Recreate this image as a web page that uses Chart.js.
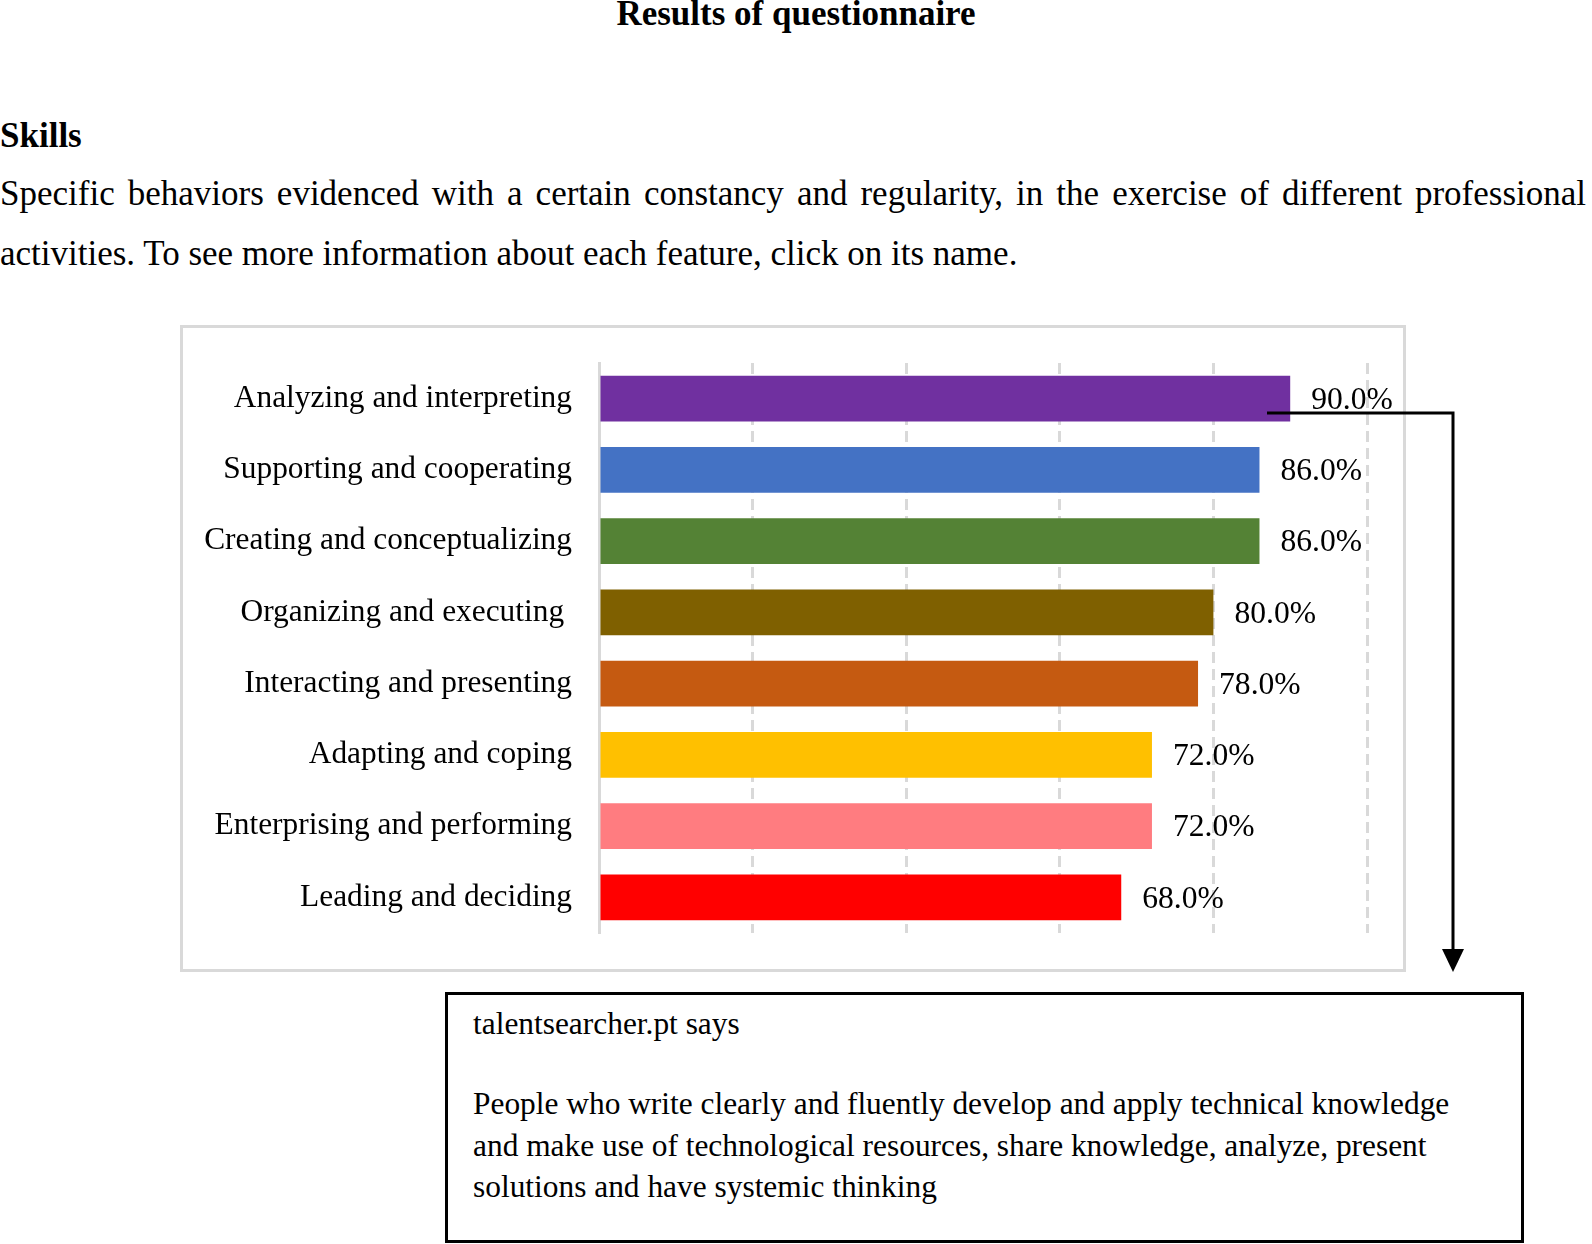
<!DOCTYPE html>
<html>
<head>
<meta charset="utf-8">
<script src="https://cdn.jsdelivr.net/npm/chart.js@4.4.1/dist/chart.umd.min.js"></script>
<style>
  html, body { margin: 0; padding: 0; background: #fff; overflow: hidden; }
  body { width: 1592px; height: 1244px; position: relative; font-family: "Liberation Serif", "Times New Roman", serif; color: #000; }
  .abs { position: absolute; }
  #title { left: 0; width: 1592px; top: -6px; text-align: center; font-weight: bold; font-size: 35px; line-height: 40px; }
  #skills { left: 0; top: 116px; font-weight: bold; font-size: 35px; line-height: 40px; }
  #desc { left: 0; top: 164px; width: 1586px; font-size: 35px; line-height: 60px; text-align: justify; }
  #chartBox { left: 180px; top: 325px; width: 1226px; height: 647px; box-sizing: border-box; border: 3px solid #d9d9d9; }
  #popup { left: 445px; top: 992px; width: 1079px; height: 251px; box-sizing: border-box; border: 3px solid #000; }
  #popHead { left: 473px; top: 1004px; font-size: 31.4px; line-height: 40px; }
  #popBody { left: 473px; top: 1083px; width: 1020px; font-size: 31.4px; line-height: 41.5px; }
  #arrow { left: 0; top: 0; pointer-events: none; }
</style>
</head>
<body>
<div id="title" class="abs">Results of questionnaire</div>
<div id="skills" class="abs">Skills</div>
<div id="desc" class="abs">Specific behaviors evidenced with a certain constancy and regularity, in the exercise of different professional activities. To see more information about each feature, click on its name.</div>

<div id="chartBox" class="abs"><canvas id="chart"></canvas></div>

<div id="popup" class="abs"></div>
<div id="popHead" class="abs">talentsearcher.pt says</div>
<div id="popBody" class="abs">People who write clearly and fluently develop and apply technical knowledge and make use of technological resources, share knowledge, analyze, present solutions and have systemic thinking</div>

<svg id="arrow" class="abs" width="1592" height="1244">
  <polyline points="1267,413 1453,413 1453,952" fill="none" stroke="#000" stroke-width="3"/>
  <polygon points="1442,949 1464,949 1453,972" fill="#000"/>
</svg>

<script>
//Data
const skills = [
    'Analyzing and interpreting',
    'Supporting and cooperating',
    'Creating and conceptualizing',
    'Organizing and executing ',
    'Interacting and presenting',
    'Adapting and coping',
    'Enterprising and performing',
    'Leading and deciding'
];
const percentages = [90, 86, 86, 80, 78, 72, 72, 68];
const barColors = ['#7030A0', '#4472C4', '#548235', '#7F6000', '#C55A11', '#FFC000', '#FF7C80', '#FF0000'];
const xTicks = [0, 20, 40, 60, 80, 100];

const serif = '"Liberation Serif", "Times New Roman", serif';
Chart.defaults.font.family = serif;
Chart.defaults.font.size = 31.4;
Chart.defaults.color = '#000';

// draws "90.0%" etc. right of each bar
const valueLabels = {
    id: 'valueLabels',
    afterDatasetsDraw(chart) {
        const ctx = chart.ctx;
        const meta = chart.getDatasetMeta(0);
        ctx.save();
        ctx.font = `31.6px ${serif}`;
        ctx.fillStyle = '#000';
        ctx.textAlign = 'left';
        ctx.textBaseline = 'middle';
        meta.data.forEach((bar, i) => {
            ctx.fillText(percentages[i].toFixed(1) + '%', bar.x + 21, bar.y + 2);
        });
        ctx.restore();
    }
};

new Chart(document.getElementById('chart'), {
    type: 'bar',
    data: {
        labels: skills,
        datasets: [{
            data: percentages,
            backgroundColor: barColors,
            borderWidth: 0,
            barPercentage: 0.8,
            categoryPercentage: 0.8
        }]
    },
    options: {
        indexAxis: 'y',
        responsive: true,
        maintainAspectRatio: false,
        animation: false,
        layout: { padding: { top: 35, right: 36, bottom: 36, left: 0 } },
        plugins: { legend: { display: false }, tooltip: { enabled: false } },
        scales: {
            x: {
                min: xTicks[0],
                max: xTicks[xTicks.length - 1],
                afterBuildTicks: (scale) => { scale.ticks = xTicks.map(v => ({ value: v })); },
                ticks: { display: false },
                grid: {
                    drawTicks: false,
                    lineWidth: 3,
                    color: (c) => c.index === 0 ? 'rgba(0,0,0,0)' : '#d9d9d9'
                },
                border: { display: false, dash: [11, 6] }
            },
            y: {
                afterFit: (scale) => {
                    scale.width = 416;
                    scale.paddingTop = 0;
                    scale.paddingBottom = 0;
                },
                ticks: { padding: 27, font: { size: 31.4 } },
                grid: { display: false, drawTicks: false },
                border: { display: true, color: '#d9d9d9', width: 3 }
            }
        }
    },
    plugins: [valueLabels]
});
</script>
</body>
</html>
